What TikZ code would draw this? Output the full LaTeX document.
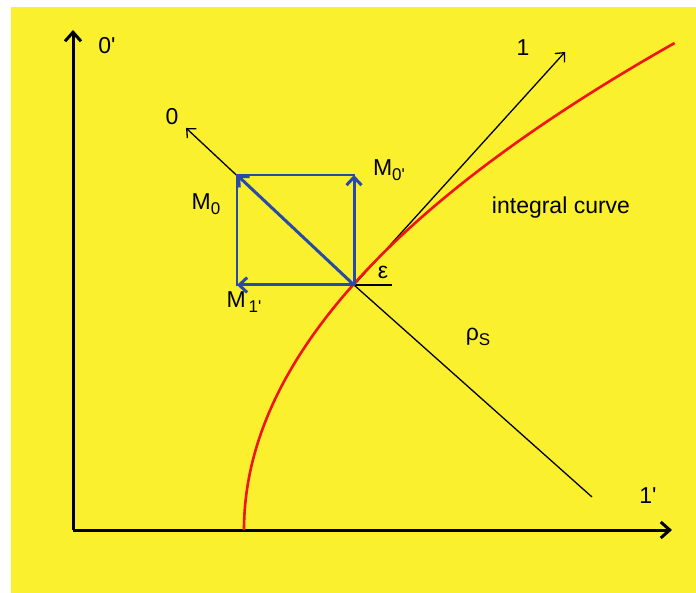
\documentclass[tikz,border=0pt]{standalone}
\usepackage{fontspec}
\setmainfont{Liberation Sans}[Ligatures=TeXOff]
\usetikzlibrary{arrows.meta}
\definecolor{bgyellow}{RGB}{250,240,45}
\definecolor{vblue}{RGB}{40,75,170}
\definecolor{cred}{RGB}{240,20,20}
\newcommand\lowsub[1]{\raisebox{-0.4ex}{\fontsize{17}{17}\selectfont #1}}
\begin{document}
\begin{tikzpicture}[x=1pt,y=-1pt,
  lbl/.style={font=\fontsize{23}{27}\selectfont, inner sep=0pt},
  axis/.style={line width=3pt, -{Straight Barb[length=9pt,width=16pt,line width=3pt]}},
  thinarr/.style={line width=1.3pt, -{Straight Barb[length=7pt,width=13pt,line width=1.3pt]}},
  thin/.style={line width=1.3pt},
  vec/.style={vblue, line width=3pt, -{Straight Barb[length=8pt,width=15pt,line width=3pt]}},
  rectline/.style={vblue, line width=1.3pt},
  curve/.style={cred, line width=2.6pt}]
\useasboundingbox (0,0) rectangle (696,593);
\fill[bgyellow] (11,7) rectangle (696,593);
% coordinates
\coordinate (O) at (73,530);
\coordinate (ytip) at (73,30);
\coordinate (xtip) at (672,530);
\coordinate (P) at (354,285);
\coordinate (t1) at (565,52);
\coordinate (t0) at (186,128);
\coordinate (rs) at (592,497);
\coordinate (eps) at (392,285);
\coordinate (A) at (237,175);
\coordinate (B) at (354,175);
\coordinate (C) at (237,285);
% axes
\draw[axis] (O) -- (ytip);
\draw[axis] (O) -- (xtip);
% thin lines
\draw[thinarr] (P) -- (t1);
\draw[thinarr] (P) -- (t0);
\draw[thin] (P) -- (rs);
\draw[thin] (P) -- (eps);
% blue rectangle
\draw[rectline] (A) -- (B) -- (P) -- (C) -- cycle;
% red curve
\draw[curve] plot[domain=0:487, samples=120] ({244+0.001816*\x*\x}, {530-\x});
% vectors
\draw[vec] (P) -- (A);
\draw[vec] (P) -- (B);
\draw[vec] (P) -- (C);
% labels
\node[lbl] (l0p) at (107,46) {0'};
\node[lbl] (l1p) at (648,496) {1'};
\node[lbl] (l1) at (523,48) {1};
\node[lbl] (l0) at (172,117) {0};
\node[lbl] (lM0) at (206,204) {M\lowsub{0}};
\node[lbl] (lM0p) at (389,170) {M\lowsub{0'}};
\node[lbl] (lM1p) at (244,302) {M\lowsub{\,1'}};
\node[lbl] (leps) at (383,272) {ε};
\node[lbl] (lrho) at (478,337) {ρ\lowsub{S}};
\node[lbl] (lint) at (561,208) {integral curve};
\end{tikzpicture}
\end{document}
